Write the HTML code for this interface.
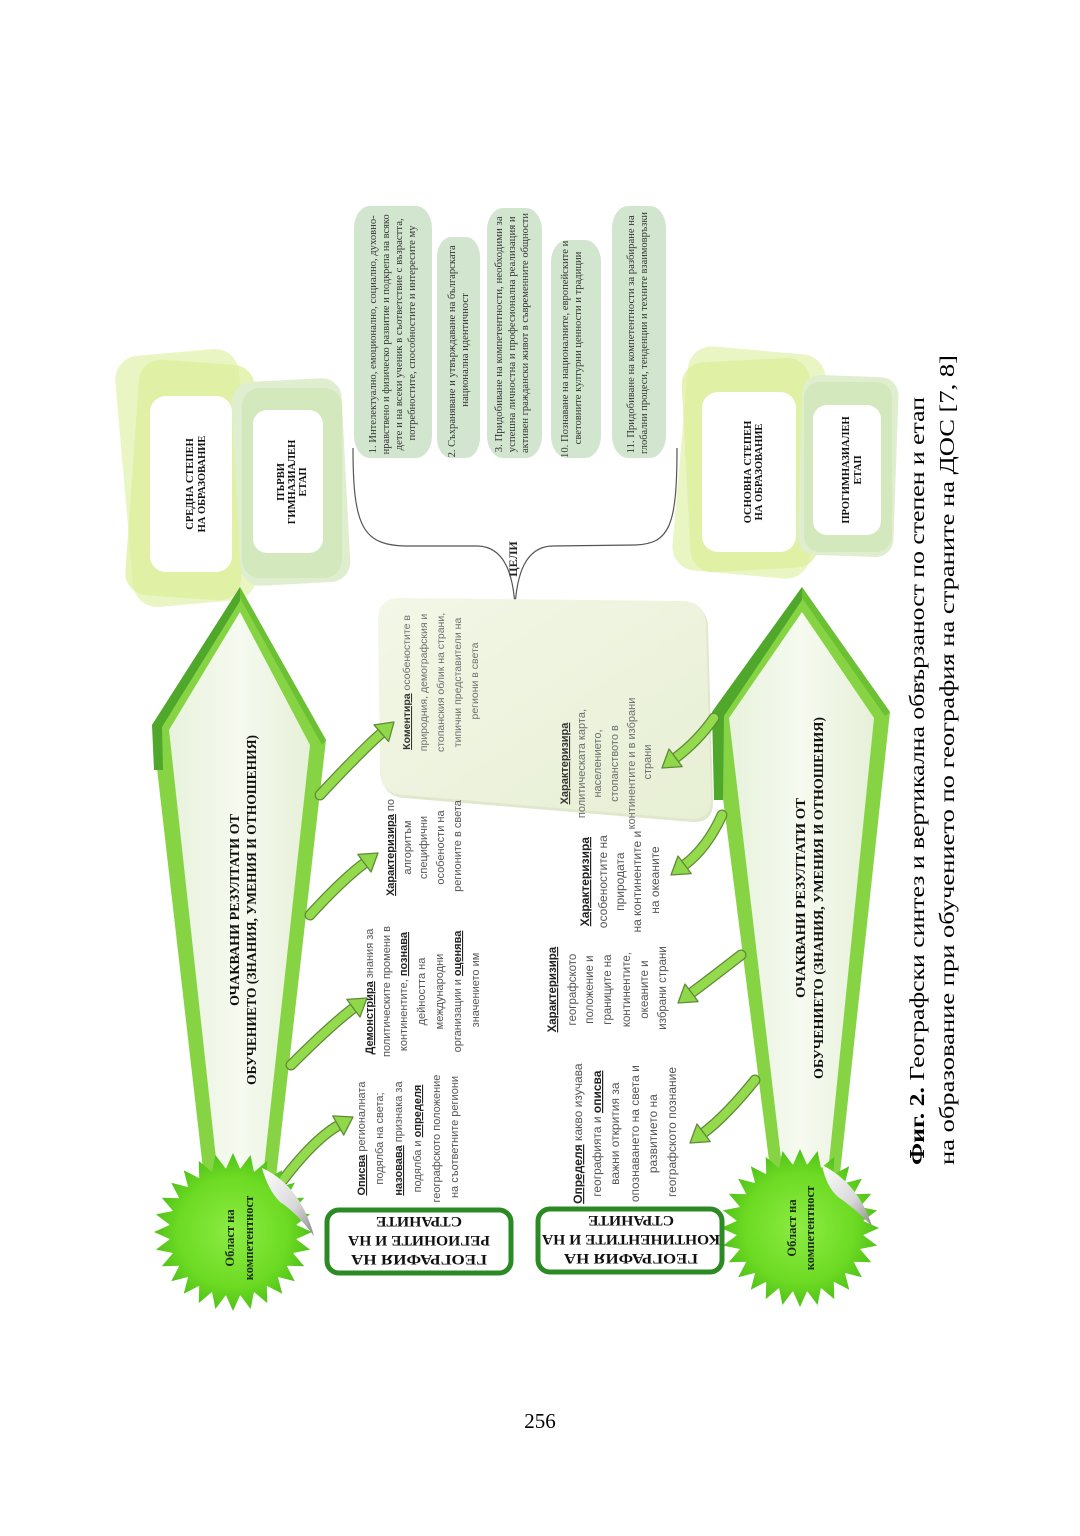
<!DOCTYPE html>
<html><head><meta charset="utf-8">
<style>
html,body{margin:0;padding:0;background:#fff;}
svg{display:block;}
</style></head>
<body>
<svg width="1080" height="1536" viewBox="0 0 1080 1536" xmlns="http://www.w3.org/2000/svg">
<defs>
  <linearGradient id="hexIn" x1="0" y1="0" x2="1" y2="0">
    <stop offset="0" stop-color="#e8f2dc"/>
    <stop offset="0.5" stop-color="#f6faf0"/>
    <stop offset="1" stop-color="#e6f0d8"/>
  </linearGradient>
  <radialGradient id="star" cx="0" cy="0" r="80" gradientUnits="userSpaceOnUse">
    <stop offset="0" stop-color="#8cec44"/>
    <stop offset="0.7" stop-color="#6cda22"/>
    <stop offset="1" stop-color="#4fc01a"/>
  </radialGradient>
  <linearGradient id="pale" x1="0" y1="0" x2="1" y2="1">
    <stop offset="0" stop-color="#f3f7e7"/>
    <stop offset="1" stop-color="#e7efd4"/>
  </linearGradient>
  <linearGradient id="peel" x1="0" y1="0" x2="1" y2="1">
    <stop offset="0" stop-color="#ffffff"/>
    <stop offset="0.6" stop-color="#d8d8d8"/>
    <stop offset="1" stop-color="#8a8a8a"/>
  </linearGradient>
  <polygon id="sp" points="0,-79 7.6,-62 -7.6,-62"/>
</defs>

<!-- ===== top-right frames (landscape right side) ===== -->
<rect x="124" y="352" width="124" height="252" rx="24" fill="#eaf5c4" transform="rotate(-5 186 478)"/>
<rect x="132" y="362" width="116" height="236" rx="22" fill="#dcef9c" opacity="0.75" transform="rotate(4 190 480)"/>
<rect x="150" y="396" width="82" height="176" rx="16" fill="#fff"/>

<rect x="236" y="380" width="110" height="204" rx="20" fill="#e0eed0" transform="rotate(-3 291 482)"/>
<rect x="242" y="388" width="100" height="190" rx="18" fill="#d0e6ba" opacity="0.85"/>
<rect x="253" y="410" width="70" height="143" rx="14" fill="#fff"/>

<rect x="680" y="350" width="138" height="225" rx="24" fill="#eaf5c4" transform="rotate(5 749 462)"/>
<rect x="686" y="360" width="128" height="210" rx="22" fill="#dcef9c" opacity="0.75" transform="rotate(-3 750 465)"/>
<rect x="702" y="392" width="94" height="160" rx="16" fill="#fff"/>

<rect x="800" y="376" width="96" height="180" rx="18" fill="#e0eed0" transform="rotate(2 848 466)"/>
<rect x="804" y="382" width="88" height="170" rx="16" fill="#d0e6ba" opacity="0.85"/>
<rect x="813" y="405" width="68" height="130" rx="14" fill="#fff"/>

<g font-family="'Liberation Serif', 'Noto Serif CJK SC', serif" font-weight="bold" font-size="10.5" fill="#111" text-anchor="middle">
  <text transform="translate(0,484) rotate(-90)"><tspan x="0" y="193">СРЕДНА СТЕПЕН</tspan><tspan x="0" y="205">НА ОБРАЗОВАНИЕ</tspan></text>
  <text transform="translate(0,482) rotate(-90)"><tspan x="0" y="284">ПЪРВИ</tspan><tspan x="0" y="295">ГИМНАЗИАЛЕН</tspan><tspan x="0" y="306">ЕТАП</tspan></text>
  <text transform="translate(0,472) rotate(-90)"><tspan x="0" y="751">ОСНОВНА СТЕПЕН</tspan><tspan x="0" y="762">НА ОБРАЗОВАНИЕ</tspan></text>
  <text transform="translate(0,470) rotate(-90)"><tspan x="0" y="849">ПРОГИМНАЗИАЛЕН</tspan><tspan x="0" y="861">ЕТАП</tspan></text>
</g>

<!-- ===== goal boxes ===== -->
<g fill="#d2e6cf">
  <rect x="354" y="206" width="78" height="252" rx="16" ry="22"/>
  <rect x="437" y="237" width="43" height="221" rx="14" ry="20"/>
  <rect x="487" y="208" width="55" height="250" rx="16" ry="22"/>
  <rect x="551" y="240" width="50" height="218" rx="16" ry="22"/>
  <rect x="612" y="206" width="54" height="252" rx="16" ry="22"/>
</g>
<g font-family="'Liberation Serif', 'Noto Serif CJK SC', serif" font-size="10.6" fill="#333" text-anchor="middle">
  <text transform="translate(0,333) rotate(-90)">
    <tspan x="0" y="376" textLength="238" lengthAdjust="spacingAndGlyphs">1. Интелектуално, емоционално, социално, духовно-</tspan>
    <tspan x="0" y="389" textLength="240" lengthAdjust="spacingAndGlyphs">нравствено и физическо развитие и подкрепа на всяко</tspan>
    <tspan x="0" y="402" textLength="232" lengthAdjust="spacingAndGlyphs">дете и на всеки ученик в съответствие с възрастта,</tspan>
    <tspan x="0" y="415">потребностите, способностите и интересите му</tspan>
  </text>
  <text transform="translate(0,350) rotate(-90)">
    <tspan x="0" y="455">2. Съхраняване и утвърждаване на българската</tspan>
    <tspan x="0" y="468">национална идентичност</tspan>
  </text>
  <text transform="translate(0,333) rotate(-90)">
    <tspan x="0" y="502" textLength="236" lengthAdjust="spacingAndGlyphs">3. Придобиване на компетентности, необходими за</tspan>
    <tspan x="0" y="515" textLength="236" lengthAdjust="spacingAndGlyphs">успешна личностна и професионална реализация и</tspan>
    <tspan x="0" y="528" textLength="240" lengthAdjust="spacingAndGlyphs">активен граждански живот в съвременните общности</tspan>
  </text>
  <text transform="translate(0,348) rotate(-90)">
    <tspan x="0" y="568">10. Познаване на националните, европейските и</tspan>
    <tspan x="0" y="581">световните културни ценности и традиции</tspan>
  </text>
  <text transform="translate(0,333) rotate(-90)">
    <tspan x="0" y="634" textLength="238" lengthAdjust="spacingAndGlyphs">11. Придобиване на компетентности за разбиране на</tspan>
    <tspan x="0" y="647" textLength="242" lengthAdjust="spacingAndGlyphs">глобални процеси, тенденции и техните взаимовръзки</tspan>
  </text>
</g>

<!-- ===== brace ===== -->
<path d="M 353 448 C 353 525, 362 545, 405 546 L 478 546 C 505 547, 513 575, 515 606 C 517 575, 525 547, 552 546 L 635 545 C 670 544, 677 525, 677 448" fill="none" stroke="#555" stroke-width="1.2"/>
<text transform="translate(0,559) rotate(-90)" font-family="'Liberation Serif', serif" font-weight="bold" font-size="12" fill="#222" text-anchor="middle"><tspan x="0" y="517">ЦЕЛИ</tspan></text>

<!-- ===== pale region ===== -->
<path d="M 402 601 L 685 604 Q 707 605 708 627 L 713 801 Q 714 823 692 822 L 404 798 Q 382 796 382 774 L 380 623 Q 380 601 402 601 Z" fill="#dfe7cc"/>
<path d="M 400 598 L 683 601 Q 705 602 706 624 L 711 798 Q 712 820 690 819 L 402 795 Q 380 793 380 771 L 378 620 Q 378 598 400 598 Z" fill="url(#pale)"/>

<!-- ===== upper hexagon ===== -->
<polygon points="240,587 152,725 206,1195 274,1195 326,740" fill="#86d443"/>
<polygon points="240,587 152,725 154,770 163,770 162,727 240,601" fill="#4fa82b"/>
<polygon points="240,587 326,740 322,745 240,598" fill="#6cc034"/>
<polygon points="240,612 169,730 220,1195 261,1195 310,745" fill="url(#hexIn)"/>

<!-- ===== lower hexagon ===== -->
<polygon points="802,587 712,712 773,1192 838,1192 890,712" fill="#86d443"/>
<polygon points="802,587 712,712 714,800 723,800 724,716 802,600" fill="#4fa82b"/>
<polygon points="802,587 890,712 885,716 802,598" fill="#6cc034"/>
<polygon points="802,612 729,718 785,1192 826,1192 874,718" fill="url(#hexIn)"/>

<g font-family="'Liberation Serif', 'Noto Serif CJK SC', serif" font-weight="bold" font-size="14" fill="#111" text-anchor="middle">
  <text transform="translate(0,910) rotate(-90)"><tspan x="0" y="239" textLength="192" lengthAdjust="spacingAndGlyphs">ОЧАКВАНИ РЕЗУЛТАТИ ОТ</tspan><tspan x="0" y="256" textLength="350" lengthAdjust="spacingAndGlyphs">ОБУЧЕНИЕТО (ЗНАНИЯ, УМЕНИЯ И ОТНОШЕНИЯ)</tspan></text>
  <text transform="translate(0,898) rotate(-90)"><tspan x="0" y="805" textLength="200" lengthAdjust="spacingAndGlyphs">ОЧАКВАНИ РЕЗУЛТАТИ ОТ</tspan><tspan x="0" y="823" textLength="362" lengthAdjust="spacingAndGlyphs">ОБУЧЕНИЕТО (ЗНАНИЯ, УМЕНИЯ И ОТНОШЕНИЯ)</tspan></text>
</g>

<!-- ===== arrows ===== -->
<g fill="none" stroke="#5f8a36" stroke-width="11" stroke-linecap="round">
  <path d="M 283 1180 Q 314 1139.5 338.2 1125.5"/>
  <path d="M 291 1065 Q 331 1025 353.4 1008.2"/>
  <path d="M 310 915 Q 342 880 364.4 863.2"/>
  <path d="M 320 795 Q 360 752 381.3 733.2"/>
  <path d="M 755 1080 Q 726 1116 703.6 1132.8"/>
  <path d="M 741 955 Q 714 976 691.6 992.8"/>
  <path d="M 722 815 Q 707 848 684.6 864.8"/>
  <path d="M 714 718 Q 698 741 675.6 757.8"/>
</g>
<g fill="none" stroke="#93da4c" stroke-width="8.5" stroke-linecap="round">
  <path d="M 283 1180 Q 314 1139.5 338.2 1125.5"/>
  <path d="M 291 1065 Q 331 1025 353.4 1008.2"/>
  <path d="M 310 915 Q 342 880 364.4 863.2"/>
  <path d="M 320 795 Q 360 752 381.3 733.2"/>
  <path d="M 755 1080 Q 726 1116 703.6 1132.8"/>
  <path d="M 741 955 Q 714 976 691.6 992.8"/>
  <path d="M 722 815 Q 707 848 684.6 864.8"/>
  <path d="M 714 718 Q 698 741 675.6 757.8"/>
</g>
<g fill="#8fd84a" stroke="#5f8a36" stroke-width="1.3" stroke-linejoin="round">
  <polygon points="353,1117 343.7,1135.1 332.7,1115.9"/>
  <polygon points="367,998 360,1017 346.8,999.4"/>
  <polygon points="378,853 371,872 357.8,854.4"/>
  <polygon points="394,722 388.6,741.5 374,724.9"/>
  <polygon points="690,1143 710.2,1141.6 697,1124"/>
  <polygon points="678,1003 698.2,1001.6 685,984"/>
  <polygon points="671,875 691.2,873.6 678,856"/>
  <polygon points="662,768 682.2,766.6 669,749"/>
</g>

<!-- ===== starbursts ===== -->
<g transform="translate(233,1232)" fill="url(#star)">
  <circle r="64"/>
  <use href="#sp"/><use href="#sp" transform="rotate(12.86)"/><use href="#sp" transform="rotate(25.71)"/><use href="#sp" transform="rotate(38.57)"/><use href="#sp" transform="rotate(51.43)"/><use href="#sp" transform="rotate(64.29)"/><use href="#sp" transform="rotate(77.14)"/><use href="#sp" transform="rotate(90)"/><use href="#sp" transform="rotate(102.86)"/><use href="#sp" transform="rotate(115.71)"/><use href="#sp" transform="rotate(128.57)"/><use href="#sp" transform="rotate(141.43)"/><use href="#sp" transform="rotate(154.29)"/><use href="#sp" transform="rotate(167.14)"/><use href="#sp" transform="rotate(180)"/><use href="#sp" transform="rotate(192.86)"/><use href="#sp" transform="rotate(205.71)"/><use href="#sp" transform="rotate(218.57)"/><use href="#sp" transform="rotate(231.43)"/><use href="#sp" transform="rotate(244.29)"/><use href="#sp" transform="rotate(257.14)"/><use href="#sp" transform="rotate(270)"/><use href="#sp" transform="rotate(282.86)"/><use href="#sp" transform="rotate(295.71)"/><use href="#sp" transform="rotate(308.57)"/><use href="#sp" transform="rotate(321.43)"/><use href="#sp" transform="rotate(334.29)"/><use href="#sp" transform="rotate(347.14)"/>
</g>
<g transform="translate(800,1228)" fill="url(#star)">
  <circle r="64"/>
  <use href="#sp"/><use href="#sp" transform="rotate(12.86)"/><use href="#sp" transform="rotate(25.71)"/><use href="#sp" transform="rotate(38.57)"/><use href="#sp" transform="rotate(51.43)"/><use href="#sp" transform="rotate(64.29)"/><use href="#sp" transform="rotate(77.14)"/><use href="#sp" transform="rotate(90)"/><use href="#sp" transform="rotate(102.86)"/><use href="#sp" transform="rotate(115.71)"/><use href="#sp" transform="rotate(128.57)"/><use href="#sp" transform="rotate(141.43)"/><use href="#sp" transform="rotate(154.29)"/><use href="#sp" transform="rotate(167.14)"/><use href="#sp" transform="rotate(180)"/><use href="#sp" transform="rotate(192.86)"/><use href="#sp" transform="rotate(205.71)"/><use href="#sp" transform="rotate(218.57)"/><use href="#sp" transform="rotate(231.43)"/><use href="#sp" transform="rotate(244.29)"/><use href="#sp" transform="rotate(257.14)"/><use href="#sp" transform="rotate(270)"/><use href="#sp" transform="rotate(282.86)"/><use href="#sp" transform="rotate(295.71)"/><use href="#sp" transform="rotate(308.57)"/><use href="#sp" transform="rotate(321.43)"/><use href="#sp" transform="rotate(334.29)"/><use href="#sp" transform="rotate(347.14)"/>
</g>
<path d="M 262 1168 Q 300 1185 314 1236 Q 296 1212 280 1202 Q 268 1190 262 1168 Z" fill="url(#peel)"/>
<path d="M 822 1165 Q 858 1183 872 1226 Q 852 1206 838 1197 Q 826 1186 822 1165 Z" fill="url(#peel)"/>

<g font-family="'Liberation Serif', serif" font-weight="bold" font-size="12.5" fill="#1e2d10" text-anchor="middle">
  <text transform="translate(0,1238) rotate(-90)"><tspan x="0" y="234">Област на</tspan><tspan x="0" y="253">компетентност</tspan></text>
  <text transform="translate(0,1228) rotate(-90)"><tspan x="0" y="796">Област на</tspan><tspan x="0" y="814">компетентност</tspan></text>
</g>

<!-- ===== upside-down boxes ===== -->
<rect x="327" y="1210" width="184" height="63" rx="12" fill="#fff" stroke="#2c8a24" stroke-width="5"/>
<rect x="538" y="1209" width="184" height="63" rx="12" fill="#fff" stroke="#2c8a24" stroke-width="5"/>
<g font-family="'Liberation Serif', serif" font-weight="bold" font-size="15" fill="#111" text-anchor="middle">
  <g transform="rotate(180 419 1241)">
    <text x="419" y="1227" textLength="136" lengthAdjust="spacingAndGlyphs">ГЕОГРАФИЯ НА</text>
    <text x="419" y="1246" textLength="142" lengthAdjust="spacingAndGlyphs">РЕГИОНИТЕ И НА</text>
    <text x="419" y="1265" textLength="86" lengthAdjust="spacingAndGlyphs">СТРАНИТЕ</text>
  </g>
  <g transform="rotate(180 631 1240)">
    <text x="631" y="1226" textLength="134" lengthAdjust="spacingAndGlyphs">ГЕОГРАФИЯ НА</text>
    <text x="631" y="1245" textLength="178" lengthAdjust="spacingAndGlyphs">КОНТИНЕНТИТЕ И НА</text>
    <text x="631" y="1264" textLength="86" lengthAdjust="spacingAndGlyphs">СТРАНИТЕ</text>
  </g>
</g>

<!-- ===== descriptive texts ===== -->
<g font-family="'Liberation Sans', sans-serif" fill="#555" text-anchor="middle">
  <text transform="translate(0,1137) rotate(-90)" font-size="11">
    <tspan x="0" y="365"><tspan font-weight="bold" fill="#222" text-decoration="underline">Описва</tspan> регионалната</tspan>
    <tspan x="0" y="383">подялба на света;</tspan>
    <tspan x="0" y="402"><tspan font-weight="bold" fill="#222" text-decoration="underline">назовава</tspan> признака за</tspan>
    <tspan x="0" y="421">подялба и <tspan font-weight="bold" fill="#222" text-decoration="underline">определя</tspan></tspan>
    <tspan x="0" y="440">географското положение</tspan>
    <tspan x="0" y="458">на съответните региони</tspan>
  </text>
  <text transform="translate(0,990) rotate(-90)" font-size="11">
    <tspan x="0" y="373"><tspan font-weight="bold" fill="#222" text-decoration="underline">Демонстрира</tspan> знания за</tspan>
    <tspan x="0" y="390">политическите промени в</tspan>
    <tspan x="0" y="407">континентите, <tspan font-weight="bold" fill="#222" text-decoration="underline">познава</tspan></tspan>
    <tspan x="0" y="425">дейността на</tspan>
    <tspan x="0" y="443">международни</tspan>
    <tspan x="0" y="461">организации и <tspan font-weight="bold" fill="#222" text-decoration="underline">оценява</tspan></tspan>
    <tspan x="0" y="479">значението им</tspan>
  </text>
  <text transform="translate(0,846) rotate(-90)" font-size="11">
    <tspan x="0" y="394"><tspan font-weight="bold" fill="#222" text-decoration="underline">Характеризира</tspan> по</tspan>
    <tspan x="0" y="411">алгоритъм</tspan>
    <tspan x="0" y="427">специфични</tspan>
    <tspan x="0" y="444">особености на</tspan>
    <tspan x="0" y="461">регионите в света</tspan>
  </text>
  <text transform="translate(0,681) rotate(-90)" font-size="10.5" fill="#6e6e6e">
    <tspan x="0" y="410"><tspan font-weight="bold" fill="#333" text-decoration="underline">Коментира</tspan> особеностите в</tspan>
    <tspan x="0" y="427">природния, демографския и</tspan>
    <tspan x="0" y="444">стопанския облик на страни,</tspan>
    <tspan x="0" y="461">типични представители на</tspan>
    <tspan x="0" y="478">региони в света</tspan>
  </text>
  <text transform="translate(0,762) rotate(-90)" font-size="11" fill="#6e6e6e">
    <tspan x="0" y="568"><tspan font-weight="bold" fill="#333" text-decoration="underline">Характеризира</tspan></tspan>
    <tspan x="0" y="585">политическата карта,</tspan>
    <tspan x="0" y="601">населението,</tspan>
    <tspan x="0" y="618">стопанството в</tspan>
    <tspan x="0" y="635">континентите и в избрани</tspan>
    <tspan x="0" y="651">страни</tspan>
  </text>
  <text transform="translate(0,880) rotate(-90)" font-size="12">
    <tspan x="0" y="589"><tspan font-weight="bold" fill="#222" text-decoration="underline">Характеризира</tspan></tspan>
    <tspan x="0" y="607">особеностите на</tspan>
    <tspan x="0" y="624">природата</tspan>
    <tspan x="0" y="641">на континентите и</tspan>
    <tspan x="0" y="659">на океаните</tspan>
  </text>
  <text transform="translate(0,988) rotate(-90)" font-size="11.5">
    <tspan x="0" y="556"><tspan font-weight="bold" fill="#222" text-decoration="underline">Характеризира</tspan></tspan>
    <tspan x="0" y="576">географското</tspan>
    <tspan x="0" y="593">положение и</tspan>
    <tspan x="0" y="611">границите на</tspan>
    <tspan x="0" y="630">континентите,</tspan>
    <tspan x="0" y="648">океаните и</tspan>
    <tspan x="0" y="666">избрани страни</tspan>
  </text>
  <text transform="translate(0,1132) rotate(-90)" font-size="12">
    <tspan x="0" y="582"><tspan font-weight="bold" fill="#222" text-decoration="underline">Определя</tspan> какво изучава</tspan>
    <tspan x="0" y="601">географията и <tspan font-weight="bold" fill="#222" text-decoration="underline">описва</tspan></tspan>
    <tspan x="0" y="619">важни открития за</tspan>
    <tspan x="0" y="639">опознаването на света и</tspan>
    <tspan x="0" y="657">развитието на</tspan>
    <tspan x="0" y="676">географското познание</tspan>
  </text>
</g>

<!-- ===== caption ===== -->
<g font-family="'Liberation Serif', serif" font-size="21" fill="#000">
  <text transform="translate(0,1165) rotate(-90)"><tspan x="0" y="924" textLength="768" lengthAdjust="spacingAndGlyphs"><tspan font-weight="bold">Фиг. 2.</tspan> Географски синтез и вертикална обвързаност по степен и етап</tspan></text>
  <text transform="translate(0,1165) rotate(-90)"><tspan x="0" y="954" textLength="810" lengthAdjust="spacingAndGlyphs">на образование при обучението по география на страните на ДОС [7, 8]</tspan></text>
</g>

<text x="540" y="1428" font-family="'Liberation Serif', serif" font-size="21" fill="#000" text-anchor="middle">256</text>
</svg>
</body></html>
